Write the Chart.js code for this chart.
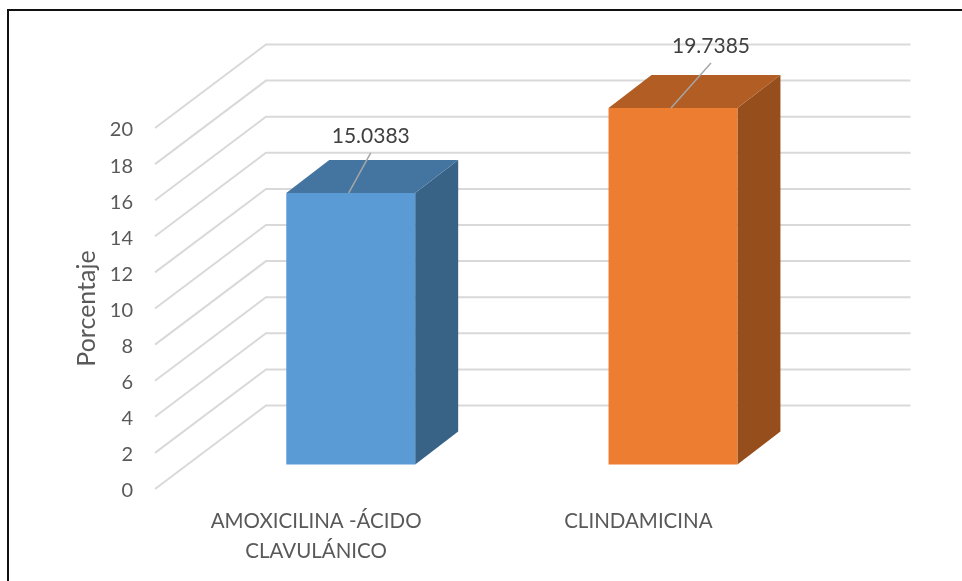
<!DOCTYPE html>
<html lang="es">
    <head>
        <meta charset="UTF-8"/>
        <title>Porcentaje</title>
        <script src="https://cdn.jsdelivr.net/npm/chart.js@4/dist/chart.umd.min.js"></script>
        <style>
            html, body { margin: 0; background: #fff; overflow: hidden; }
            #frame { position: absolute; left: 7px; top: 9px; width: 1000px; height: 700px; border-top: 2px solid #111; border-left: 2px solid #111; }
            #chart { position: absolute; left: 0; top: 0; display: block; }
        </style>
    </head>
    <body>
        <div id="frame"></div>
        <canvas id="chart" width="962" height="581"></canvas>

        <script>
            const categories = [['AMOXICILINA -ÁCIDO', 'CLAVULÁNICO'], ['CLINDAMICINA']];
            const porcentajes = [15.0383, 19.7385];
            const yTicks = [0, 2, 4, 6, 8, 10, 12, 14, 16, 18, 20];

            const frontColors = ['#5b9bd5', '#ed7d31'];
            const topColors = ['#4475a0', '#b15d24'];
            const sideColors = ['#386286', '#964f1c'];

            const FONT = 'Lato, "Open Sans", sans-serif';
            const TEXT = '#595959';

            // fake 3D: depth of the walls, where the bars stand, and how deep the bars are
            const wall = { dx: 111, dy: -83.5 };
            const barShift = { dx: 34.6, dy: -24.6 };
            const barDepth = { dx: 43, dy: -33 };
            // value label offset from the middle of the bar's front top edge
            const labelOffsets = [{ dx: 20, dy: -57 }, { dx: 38, dy: -62 }];
            const leaderStartDx = -2;
            const leaderEnds = [{ dx: 20, dy: -40 }, { dx: 38, dy: -45 }];

            function poly(ctx, color, pts) {
                ctx.fillStyle = color;
                ctx.beginPath();
                pts.forEach((p, i) => i ? ctx.lineTo(p[0], p[1]) : ctx.moveTo(p[0], p[1]));
                ctx.closePath();
                ctx.fill();
            }

            const box3d = {
                id: 'box3d',
                beforeDatasetsDraw(chart) {
                    const { ctx, chartArea, scales } = chart;

                    // side wall and back wall lines
                    ctx.save();
                    ctx.strokeStyle = '#d9d9d9';
                    ctx.lineWidth = 2;
                    yTicks.forEach(t => {
                        const y = scales.y.getPixelForValue(t);
                        ctx.beginPath();
                        ctx.moveTo(chartArea.left, y);
                        ctx.lineTo(chartArea.left + wall.dx, y + wall.dy);
                        ctx.lineTo(chartArea.right + wall.dx, y + wall.dy);
                        ctx.stroke();
                    });
                    ctx.restore();

                    ctx.save();
                    ctx.translate(barShift.dx, barShift.dy);
                    chart.getDatasetMeta(0).data.forEach((bar, i) => {
                        const { x, y, base, width } = bar.getProps(['x', 'y', 'base', 'width'], true);
                        const l = x - width / 2;
                        const r = x + width / 2;
                        poly(ctx, sideColors[i], [[r, y], [r + barDepth.dx, y + barDepth.dy], [r + barDepth.dx, base + barDepth.dy], [r, base]]);
                        poly(ctx, topColors[i], [[l, y], [l + barDepth.dx, y + barDepth.dy], [r + barDepth.dx, y + barDepth.dy], [r, y]]);
                    });
                    // front faces come from the library, drawn under this same shift
                },
                afterDatasetsDraw(chart) {
                    const { ctx } = chart;
                    ctx.restore();

                    ctx.save();
                    chart.getDatasetMeta(0).data.forEach((bar, i) => {
                        const { x, y } = bar.getProps(['x', 'y'], true);
                        const bx = x + barShift.dx;
                        const by = y + barShift.dy;

                        ctx.strokeStyle = '#a6a6a6';
                        ctx.lineWidth = 1.5;
                        ctx.beginPath();
                        ctx.moveTo(bx + leaderStartDx, by);
                        ctx.lineTo(bx + leaderEnds[i].dx, by + leaderEnds[i].dy);
                        ctx.stroke();

                        ctx.font = '21px ' + FONT;
                        ctx.fillStyle = '#404040';
                        ctx.textAlign = 'center';
                        ctx.textBaseline = 'middle';
                        ctx.fillText(porcentajes[i].toFixed(4), bx + labelOffsets[i].dx, by + labelOffsets[i].dy);
                    });
                    ctx.restore();
                }
            };

            new Chart(document.getElementById('chart').getContext('2d'), {
                type: 'bar',
                plugins: [box3d],
                data: {
                    labels: categories,
                    datasets: [{
                        data: porcentajes,
                        backgroundColor: frontColors,
                        barPercentage: 1,
                        categoryPercentage: 0.4,
                        clip: false
                    }]
                },
                options: {
                    responsive: false,
                    animation: false,
                    layout: { padding: { left: 55, right: 162.5, top: 128, bottom: 0 } },
                    plugins: { legend: { display: false }, tooltip: { enabled: false } },
                    scales: {
                        x: {
                            afterFit: s => { s.height = 92; },
                            grid: { display: false },
                            border: { display: false },
                            ticks: {
                                autoSkip: false,
                                maxRotation: 0,
                                padding: 9,
                                color: TEXT,
                                font: { family: FONT, size: 20.5, lineHeight: 1.46 }
                            }
                        },
                        y: {
                            min: 0,
                            max: 20,
                            afterFit: s => { s.width = 100; },
                            grid: { display: false },
                            border: { display: false },
                            title: {
                                display: true,
                                text: 'Porcentaje',
                                color: TEXT,
                                padding: { top: 17, bottom: 0 },
                                font: { family: FONT, size: 25 }
                            },
                            ticks: {
                                stepSize: 2,
                                padding: 14,
                                labelOffset: 2,
                                color: TEXT,
                                font: { family: FONT, size: 20 }
                            }
                        }
                    }
                }
            });
        </script>
    </body>
</html>
